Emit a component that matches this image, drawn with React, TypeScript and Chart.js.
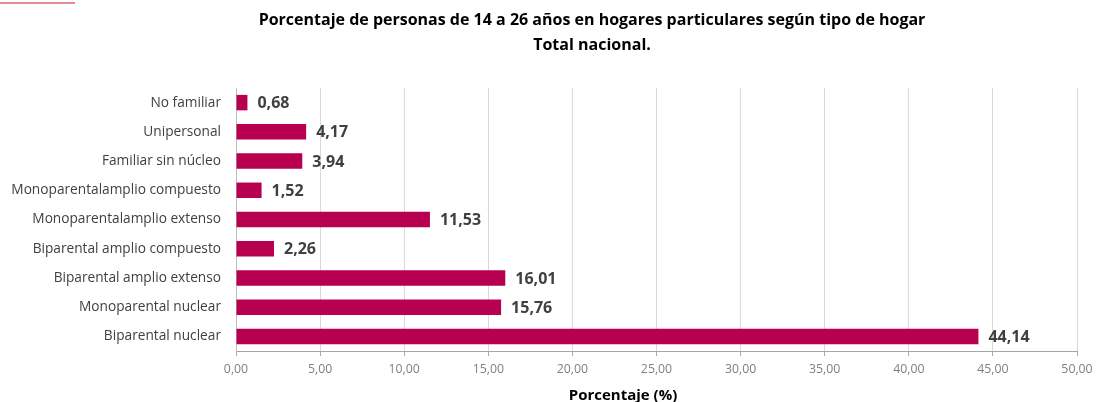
import React, { useEffect, useRef } from "react";
import { Chart, registerables } from "chart.js";

Chart.register(...registerables);

const categories = [
  "No familiar",
  "Unipersonal",
  "Familiar sin núcleo",
  "Monoparentalamplio compuesto",
  "Monoparentalamplio extenso",
  "Biparental amplio compuesto",
  "Biparental amplio extenso",
  "Monoparental nuclear",
  "Biparental nuclear",
];
const values = [0.68, 4.17, 3.94, 1.52, 11.53, 2.26, 16.01, 15.76, 44.14];
const titleLines = [
  "Porcentaje de personas de 14 a 26 años en hogares particulares según tipo de hogar",
  "Total nacional.",
];
const axisTitle = "Porcentaje (%)";

const FONT = "'Open Sans', sans-serif";
const fmt = (v: number, d = 2) => v.toFixed(d).replace(".", ",");

export default function App() {
  const ref = useRef<HTMLCanvasElement>(null);
  useEffect(() => {
    const canvas = ref.current!;
    const textPlugin = {
      id: "texts",
      afterDatasetsDraw(chart: any) {
        const ctx = chart.ctx;
        ctx.save();
        const meta = chart.getDatasetMeta(0);
        ctx.font = `bold 16px ${FONT}`;
        ctx.fillStyle = "#404040";
        ctx.textAlign = "left";
        ctx.textBaseline = "middle";
        meta.data.forEach((bar: any, i: number) => {
          ctx.fillText(fmt(values[i]), bar.x + 10, bar.y + 1);
        });
        ctx.fillStyle = "#000000";
        ctx.textAlign = "center";
        ctx.font = `bold 16px ${FONT}`;
        ctx.fillText(titleLines[0], 592, 20);
        ctx.fillText(titleLines[1], 592, 45);
        ctx.font = `bold 15px ${FONT}`;
        ctx.fillText(axisTitle, 623, 396);
        ctx.restore();
      },
    };
    const chart = new Chart(canvas, {
      type: "bar",
      data: {
        labels: categories,
        datasets: [
          {
            data: values,
            backgroundColor: "#B80050",
            borderWidth: 0,
            barPercentage: 0.53,
            categoryPercentage: 1,
          },
        ],
      },
      options: {
        indexAxis: "y",
        animation: false,
        responsive: false,
        maintainAspectRatio: false,
        layout: { padding: { left: 0, right: 20, top: 88, bottom: 0 } },
        plugins: {
          legend: { display: false },
          title: { display: false },
          tooltip: { enabled: false },
        },
        scales: {
          x: {
            min: 0,
            max: 50,
            ticks: {
              stepSize: 5,
              padding: 6,
              color: "#7f7f7f",
              font: { family: FONT, size: 12.3 },
              callback: (v: any) => fmt(Number(v)),
              maxRotation: 0,
            },
            grid: {
              color: "#d9d9d9",
              tickColor: "#a6a6a6",
              tickLength: 5,
              drawTicks: true,
            },
            border: { color: "#a6a6a6" },
            afterFit: (s: any) => {
              s.height = 51;
              s.paddingRight = 0;
            },
          },
          y: {
            ticks: {
              color: "#404040",
              font: { family: FONT, size: 13.7 },
              padding: 15,
            },
            grid: { display: false, drawTicks: false },
            border: { color: "#bfbfbf" },
            afterFit: (s: any) => {
              s.width = 236;
            },
          },
        },
      },
      plugins: [textPlugin],
    });
    return () => chart.destroy();
  }, []);
  return (
    <div style={{ position: "fixed", left: 0, top: 0, width: 1097, height: 402, background: "#fff" }}>
      <div style={{ position: "absolute", left: 0, top: 2, width: 75, height: 2, background: "#e8899a" }} />
      <canvas ref={ref} width={1097} height={402} style={{ display: "block" }} />
    </div>
  );
}
